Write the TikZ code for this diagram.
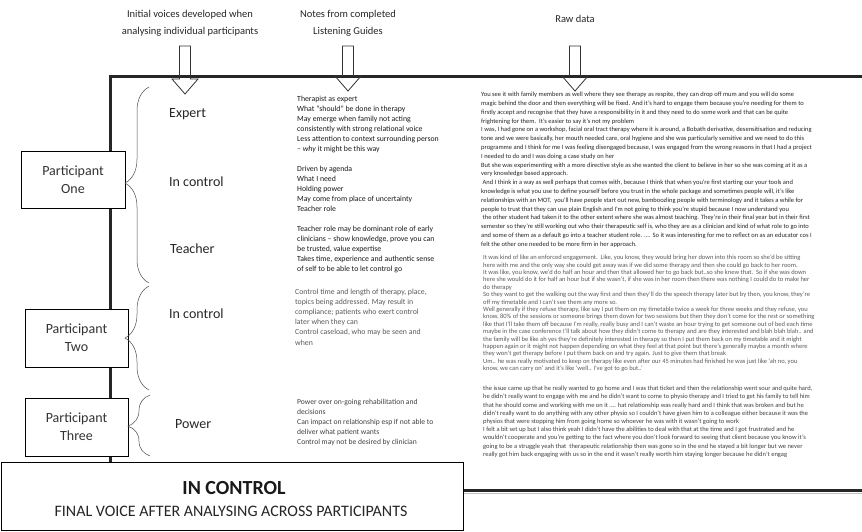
\documentclass[tikz,border=0pt]{standalone}
\usepackage{fontspec}
\setmainfont{Carlito}
\usetikzlibrary{decorations.pathreplacing}

\begin{document}
\begin{tikzpicture}[x=1pt,y=-1pt]
  \useasboundingbox (0,0) rectangle (862,531);
  \tikzset{partbox/.style={draw=black,fill=white,line width=0.8pt,minimum width=104pt,minimum height=57pt,
                           align=center,inner sep=0pt,font=\fontsize{14}{18}\selectfont,text=black!80},
           voice/.style={anchor=west,inner sep=0pt,font=\fontsize{14}{16}\selectfont,text=black!85},
           notes/.style={anchor=north west,align=left,inner sep=0pt,font=\fontsize{7.8}{10}\selectfont},
           rawtext/.style={anchor=north west,align=left,inner sep=0pt},
           heading/.style={align=center,inner sep=0pt,font=\fontsize{10.5}{17}\selectfont,text=black!85},
           hollow/.style={draw=black!80,line width=0.8pt},
           grpbrace/.style={decorate,decoration={brace,amplitude=24pt},draw=black!70,line width=0.5pt}}

 % column headings
  \node[heading] (initial) at (190, 23) {Initial voices developed when\\analysing individual participants};
  \node[heading] (lgnotes) at (348, 23) {Notes from completed\\Listening Guides};
  \node[heading] (rawdata) at (575, 19) {Raw data};

 % frame
  \draw[line width=3pt,black!85] (862,76) -- (110,76) -- (110,462);
  \draw[line width=3pt,black!85] (463,490) -- (862,490);
  \draw[line width=1.5pt,black!25] (463,493.5) -- (862,493.5);

 % hollow arrows
  \draw[hollow] (179.5,46) -- (190.5,46) -- (190.5,79) -- (198,79) -- (185,94) -- (172,79) -- (179.5,79) -- cycle;
  \draw[hollow] (342.5,46) -- (353.5,46) -- (353.5,76) -- (361,76) -- (348,91) -- (335,76) -- (342.5,76) -- cycle;
  \draw[hollow] (569.5,46) -- (580.5,46) -- (580.5,76) -- (588,76) -- (575,91) -- (562,76) -- (569.5,76) -- cycle;

 % participants
  \node[partbox] (one) at (73,179.5) {Participant\\One};
  \node[partbox, minimum width=103pt, minimum height=58pt] (two) at (76.5,338) {Participant\\Two};
  \node[partbox, minimum width=103pt, minimum height=58pt] (three) at (76.5,427) {Participant\\Three};

 % braces
  \coordinate (oneS) at (149,283);   \coordinate (oneE) at (149,87);
  \coordinate (twoS) at (149,390);   \coordinate (twoE) at (149,286);
  \coordinate (threeS) at (150,456); \coordinate (threeE) at (150,395);
  \draw[grpbrace, decoration={aspect=0.51}] (oneS) -- (oneE);
  \draw[grpbrace, decoration={aspect=0.5}] (twoS) -- (twoE);
  \draw[grpbrace, decoration={aspect=0.49,amplitude=22pt}] (threeS) -- (threeE);

 % initial voices
  \node[voice] (expert) at (169,114) {Expert};
  \node[voice] (ctrlA) at (169,182) {In control};
  \node[voice] (teacher) at (170,249) {Teacher};
  \node[voice] (ctrlB) at (169,314) {In control};
  \node[voice] (power) at (175,424) {Power};

 % listening guide notes
  \node[notes, text=black!90] (noteA) at (297,95.5) {Therapist as expert\\What “should” be done in therapy\\May emerge when family not acting\\consistently with strong relational voice\\Less attention to context surrounding person\\– \emph{why} it might be this way};
  \node[notes, text=black!90] (noteB) at (297,165.5) {Driven by agenda\\What I need\\Holding power\\May come from place of uncertainty\\Teacher role};
  \node[notes, text=black!90] (noteC) at (297,225.5) {Teacher role may be dominant role of early\\clinicians – show knowledge, prove you can\\be trusted, value expertise\\Takes time, experience and authentic sense\\of self to be able to let control go};
  \node[notes, text=black!65, font=\fontsize{7.8}{10.2}\selectfont] (noteD) at (295,288.5) {Control time and length of therapy, place,\\topics being addressed. May result in\\compliance; patients who exert control\\later when they can\\Control caseload, who may be seen and\\when};
  \node[notes, text=black!75, font=\fontsize{7.6}{10}\selectfont] (noteE) at (297,399.5) {Power over on-going rehabilitation and\\decisions\\Can impact on relationship esp if not able to\\deliver what patient wants\\Control may not be desired by clinician};

 % raw data
  \node[rawtext, text=black!85, font=\fontsize{6.5}{8.8}\selectfont] (rawA) at (481,92) {You see it with family members as well where they see therapy as respite, they can drop off mum and you will do some\\
magic behind the door and then everything will be fixed. And it’s hard to engage them because you’re needing for them to\\
firstly accept and recognise that they have a responsibility in it and they need to do some work and that can be quite\\
frightening for them.\ \ It’s easier to say it’s not my problem\\
I was, I had gone on a workshop, facial oral tract therapy where it is around, a Bobath derivative, desensitisation and reducing\\
tone and we were basically, her mouth needed care, oral hygiene and she was particularly sensitive and we need to do this\\
programme and I think for me I was feeling disengaged because, I was engaged from the wrong reasons in that I had a project\\
I needed to do and I was doing a case study on her\\
But she was experimenting with a more directive style as she wanted the client to believe in her so she was coming at it as a\\
very knowledge based approach.\\
\ And I think in a way as well perhaps that comes with, because I think that when you’re first starting our your tools and\\
knowledge is what you use to define yourself before you trust in the whole package and sometimes people will, it’s like\\
relationships with an MOT,\ \ you’ll have people start out new, bamboozling people with terminology and it takes a while for\\
people to trust that they can use plain English and I’m not going to think you’re stupid because I now understand you\\
\ the other student had taken it to the other extent where she was almost teaching. They’re in their final year but in their first\\
semester so they’re still working out who their therapeutic self is, who they are as a clinician and kind of what role to go into\\
and some of them as a default go into a teacher student role. .... So it was interesting for me to reflect on as an educator cos I\\
felt the other one needed to be more firm in her approach.};
  \node[rawtext, text=black!65, font=\fontsize{6.5}{7.4}\selectfont] (rawB) at (483,255) {It was kind of like an enforced engagement.\ \ Like, you know, they would bring her down into this room so she’d be sitting\\
here with me and the only way she could get away was if we did some therapy and then she could go back to her room.\\
It was like, you know, we’d do half an hour and then that allowed her to go back but..so she knew that.\ \ So if she was down\\
here she would do it for half an hour but if she wasn’t, if she was in her room then there was nothing I could do to make her\\
do therapy\\
So they want to get the walking out the way first and then they’ll do the speech therapy later but by then, you know, they’re\\
off my timetable and I can’t see them any more so.\\
Well generally if they refuse therapy, like say I put them on my timetable twice a week for three weeks and they refuse, you\\
know, 80\% of the sessions or someone brings them down for two sessions but then they don’t come for the rest or something\\
like that I’ll take them off because I’m really, really busy and I can’t waste an hour trying to get someone out of bed each time\\
maybe in the case conference I’ll talk about how they didn’t come to therapy and are they interested and blah blah blah.. and\\
the family will be like ah yes they’re definitely interested in therapy so then I put them back on my timetable and it might\\
happen again or it might not happen depending on what they feel at that point but there’s generally maybe a month where\\
they won’t get therapy before I put them back on and try again. Just to give them that break\\
Um.. he was really motivated to keep on therapy like even after our 45 minutes had finished he was just like ‘ah no, you\\
know, we can carry on’ and it’s like ‘well.. I’ve got to go but..’};
  \node[rawtext, text=black!75, font=\fontsize{6.5}{8.2}\selectfont] (rawC) at (483,386) {the issue came up that he really wanted to go home and I was that ticket and then the relationship went sour and quite hard,\\
he didn’t really want to engage with me and he didn’t want to come to physio therapy and I tried to get his family to tell him\\
that he should come and working with me on it .... hat relationship was really hard and I think that was broken and but he\\
didn’t really want to do anything with any other physio so I couldn’t have given him to a colleague either because it was the\\
physios that were stopping him from going home so whoever he was with it wasn’t going to work\\
I felt a bit set up but I also think yeah I didn’t have the abilities to deal with that at the time and I got frustrated and he\\
wouldn’t cooperate and you’re getting to the fact where you don’t look forward to seeing that client because you know it’s\\
going to be a struggle yeah that\ \ therapeutic relationship then was gone so in the end he stayed a bit longer but we never\\
really got him back engaging with us so in the end it wasn’t really worth him staying longer because he didn’t engag};

 % final voice
  \node[draw, fill=white, line width=0.8pt, anchor=north west, minimum width=462pt, minimum height=68pt, inner sep=0pt] (final) at (1,462) {};
  \node[font=\bfseries\fontsize{20}{24}\selectfont, text=black!90, inner sep=0pt] (finalA) at (234,488) {IN CONTROL};
  \node[font=\fontsize{16}{19}\selectfont, text=black!85, inner sep=0pt] (finalB) at (231,511) {FINAL VOICE AFTER ANALYSING ACROSS PARTICIPANTS};
\end{tikzpicture}
\end{document}
